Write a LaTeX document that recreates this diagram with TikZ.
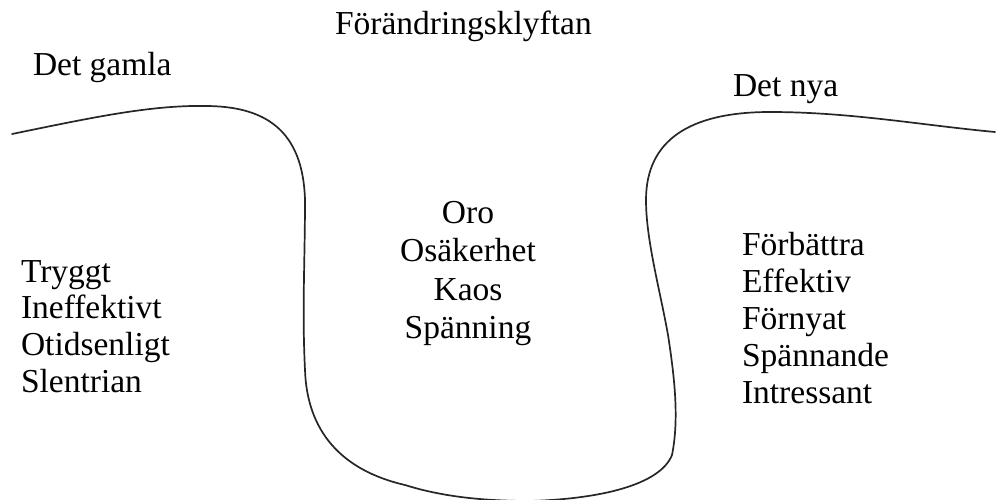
\documentclass[tikz,border=0pt]{standalone}
\usepackage{fontspec}
\setmainfont{Liberation Serif}
\begin{document}
\begin{tikzpicture}[x=1pt,y=-1pt,
  lbl/.style={inner sep=0pt,outer sep=0pt,font=\fontsize{33.5}{40}\selectfont},
  wl/.style={lbl,anchor=base west},
  cl/.style={lbl,anchor=base},
  gap/.style={line width=1.7pt,draw=black!85,line cap=round}]
\useasboundingbox (0,0) rectangle (996,500);
% the chasm
\draw[gap] (12,134) .. controls (90,118) and (150,105) .. (205,106)
  .. controls (265,106) and (303,130) .. (305,200)
  .. controls (305,260) and (302,310) .. (305,370)
  .. controls (307,430) and (340,470) .. (405,485)
  .. controls (440,496) and (480,501) .. (530,501)
  .. controls (600,499) and (660,485) .. (672,455)
  .. controls (679,420) and (675,380) .. (668,335)
  .. controls (660,290) and (646,240) .. (646,200)
  .. controls (646,140) and (690,112) .. (770,112)
  .. controls (850,112) and (920,125) .. (995,132);
% titles
\node[wl] (title) at (335,35) {Förändringsklyftan};
\node[wl] (old) at (33,76) {Det gamla};
\node[wl] (new) at (733,97) {Det nya};
% left list
\node[wl] (l1) at (21,282) {Tryggt};
\node[wl] (l2) at (21,318.7) {Ineffektivt};
\node[wl] (l3) at (21,355.4) {Otidsenligt};
\node[wl] (l4) at (21,392) {Slentrian};
% middle list
\node[cl] (m1) at (468,223) {Oro};
\node[cl] (m2) at (468,261.5) {Osäkerhet};
\node[cl] (m3) at (468,300) {Kaos};
\node[cl] (m4) at (468,338) {Spänning};
% right list
\node[wl] (r1) at (742,255) {Förbättra};
\node[wl] (r2) at (742,292) {Effektiv};
\node[wl] (r3) at (742,329.5) {Förnyat};
\node[wl] (r4) at (742,366.5) {Spännande};
\node[wl] (r5) at (742,403.5) {Intressant};
\end{tikzpicture}
\end{document}
